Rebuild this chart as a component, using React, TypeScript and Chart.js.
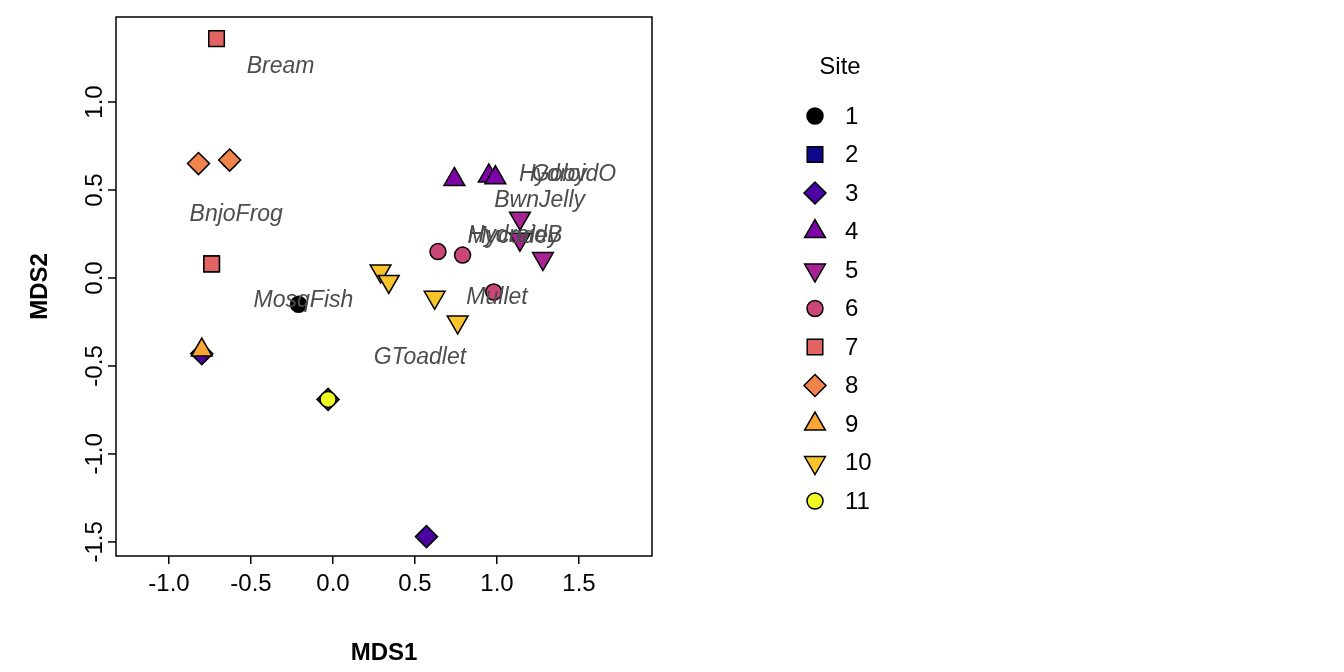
import React, { useEffect, useRef } from 'react';
import { Chart, registerables } from 'chart.js';
import { drawPoint } from 'chart.js/helpers';

Chart.register(...registerables);

const sites = ['1', '2', '3', '4', '5', '6', '7', '8', '9', '10', '11'];
const siteColors = ['#000000', '#0D0887', '#4B03A1', '#7D03A8', '#A82296', '#CB4679', '#E16462', '#F1844B', '#FCA636', '#F9C32B', '#F0F921'];
const siteShapes = ['circle', 'rect', 'rectRot', 'triangle', 'triangle', 'circle', 'rect', 'rectRot', 'triangle', 'triangle', 'circle'];
const siteRotation = [0, 0, 0, 0, 180, 0, 0, 0, 0, 180, 0];
const shapeRadius: Record<string, number> = { circle: 8, rect: 11, rectRot: 11, triangle: 12 };

// MDS coordinates per site
const sitePoints: { x: number; y: number }[][] = [
  [{ x: -0.21, y: -0.15 }, { x: -0.63, y: 0.67 }],
  [{ x: -0.74, y: 0.08 }],
  [{ x: 0.57, y: -1.47 }, { x: -0.8, y: -0.43 }, { x: -0.03, y: -0.69 }],
  [{ x: 0.74, y: 0.56 }, { x: 0.95, y: 0.58 }, { x: 0.99, y: 0.57 }],
  [{ x: 1.14, y: 0.34 }, { x: 1.14, y: 0.22 }, { x: 1.28, y: 0.11 }],
  [{ x: 0.64, y: 0.15 }, { x: 0.79, y: 0.13 }, { x: 0.98, y: -0.08 }],
  [{ x: -0.71, y: 1.36 }, { x: -0.74, y: 0.08 }],
  [{ x: -0.82, y: 0.65 }, { x: -0.63, y: 0.67 }],
  [{ x: -0.8, y: -0.41 }],
  [{ x: 0.29, y: 0.04 }, { x: 0.34, y: -0.02 }, { x: 0.62, y: -0.11 }, { x: 0.76, y: -0.25 }],
  [{ x: -0.03, y: -0.69 }],
];

const speciesNames = ['Bream', 'BnjoFrog', 'MosqFish', 'GToadlet', 'Mullet', 'BwnJelly', 'HydroidO', 'Goby', 'HydroidB', 'Mycodey'];
const speciesX = [-0.32, -0.59, -0.18, 0.53, 1.0, 1.26, 1.43, 1.38, 1.11, 1.1];
const speciesY = [1.2, 0.36, -0.13, -0.45, -0.11, 0.44, 0.585, 0.585, 0.24, 0.235];

const xTicks = [-1.0, -0.5, 0.0, 0.5, 1.0, 1.5];
const yTicks = [-1.5, -1.0, -0.5, 0.0, 0.5, 1.0];

const FONT = 'Arial, "Liberation Sans"';

const overlay = {
  id: 'overlay',
  afterDatasetsDraw(chart: any) {
    const { ctx, chartArea: a, scales } = chart;
    ctx.save();
    ctx.strokeStyle = '#000';
    ctx.lineWidth = 1.5;
    ctx.strokeRect(a.left, a.top, a.right - a.left, a.bottom - a.top);
    // y ticks and title, rotated
    ctx.fillStyle = '#000';
    ctx.textAlign = 'center';
    ctx.textBaseline = 'middle';
    ctx.font = `24px ${FONT}`;
    yTicks.forEach((v) => {
      const py = scales.y.getPixelForValue(v);
      ctx.beginPath();
      ctx.moveTo(a.left, py);
      ctx.lineTo(a.left - 8, py);
      ctx.stroke();
      ctx.save();
      ctx.translate(95, py);
      ctx.rotate(-Math.PI / 2);
      ctx.fillText(v.toFixed(1), 0, 0);
      ctx.restore();
    });
    ctx.save();
    ctx.translate(40, (a.top + a.bottom) / 2);
    ctx.rotate(-Math.PI / 2);
    ctx.font = `bold 24px ${FONT}`;
    ctx.fillText('MDS2', 0, 0);
    ctx.restore();

    ctx.font = `italic 23px ${FONT}`;
    ctx.fillStyle = '#4d4d4d';
    speciesNames.forEach((n, i) => {
      ctx.fillText(n, scales.x.getPixelForValue(speciesX[i]), scales.y.getPixelForValue(speciesY[i]));
    });
    // legend
    ctx.fillStyle = '#000';
    ctx.font = `24px ${FONT}`;
    ctx.fillText('Site', 840, 67);
    ctx.textAlign = 'left';
    sites.forEach((s, i) => {
      const y = 116 + i * 38.5;
      ctx.fillStyle = siteColors[i];
      ctx.strokeStyle = '#000';
      ctx.lineWidth = 1.5;
      drawPoint(ctx, { pointStyle: siteShapes[i], rotation: siteRotation[i], radius: shapeRadius[siteShapes[i]], borderWidth: 1.5 } as any, 815, y);
      ctx.fillStyle = '#000';
      ctx.fillText(s, 845, y + 1);
    });
    ctx.restore();
  },
};

const App: React.FC = () => {
  const canvasRef = useRef<HTMLCanvasElement>(null);

  useEffect(() => {
    if (!canvasRef.current) return;
    const chart = new Chart(canvasRef.current, {
      type: 'scatter',
      data: {
        datasets: sites.map((s, i) => ({
          label: s,
          data: sitePoints[i],
          order: sites.length - i,
          pointStyle: siteShapes[i] as any,
          rotation: siteRotation[i],
          pointRadius: shapeRadius[siteShapes[i]],
          pointHoverRadius: shapeRadius[siteShapes[i]],
          backgroundColor: siteColors[i],
          borderColor: '#000',
          borderWidth: 1.5,
        })),
      },
      plugins: [overlay],
      options: {
        animation: false,
        responsive: false,
        events: [],
        layout: { padding: { left: 0, right: 1344 - 652, top: 17, bottom: 0 } },
        plugins: { legend: { display: false }, tooltip: { enabled: false } },
        scales: {
          x: {
            type: 'linear',
            min: -1.323,
            max: 1.945,
            afterBuildTicks: (sc: any) => { sc.ticks = xTicks.map((v) => ({ value: v })); },
            afterFit: (sc: any) => { sc.height = 672 - 556; },
            grid: { drawOnChartArea: false, tickLength: 8, color: '#000', lineWidth: 1.5 },
            border: { display: false },
            ticks: { color: '#000', font: { size: 24, family: FONT }, padding: 6, callback: (v: any) => Number(v).toFixed(1) },
            title: { display: true, text: 'MDS1', color: '#000', font: { size: 24, weight: 'bold', family: FONT }, padding: { top: 20 } },
          },
          y: {
            type: 'linear',
            min: -1.58,
            max: 1.483,
            afterBuildTicks: (sc: any) => { sc.ticks = yTicks.map((v) => ({ value: v })); },
            afterFit: (sc: any) => { sc.width = 116; },
            grid: { display: false },
            border: { display: false },
            ticks: { display: false },
          },
        },
      },
    });
    return () => chart.destroy();
  }, []);

  return (
    <div style={{ position: 'fixed', left: 0, top: 0, width: 1344, height: 672, background: '#fff' }}>
      <canvas ref={canvasRef} width={1344} height={672} style={{ width: 1344, height: 672 }} />
    </div>
  );
};

export default App;
